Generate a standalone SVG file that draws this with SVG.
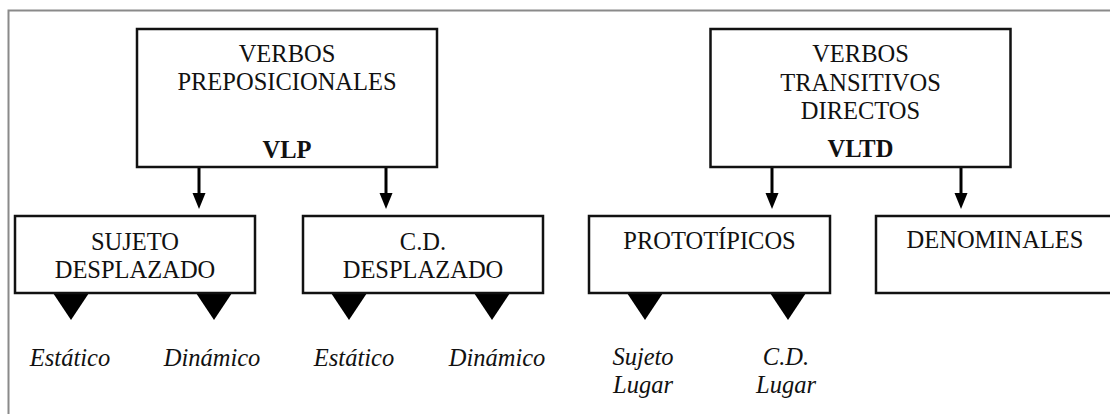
<svg xmlns="http://www.w3.org/2000/svg" width="1110" height="414" viewBox="0 0 1110 414" font-family="'Liberation Serif', 'DejaVu Serif', serif">
<style>
.box{fill:#fff;stroke:#111;stroke-width:2.5}
.t{font-family:'Liberation Serif','DejaVu Serif',serif;font-size:24.5px;fill:#111;text-anchor:middle}
.b{font-weight:bold}
.i{font-style:italic}
.conn{stroke:#000;stroke-width:3;fill:none}
.tri{fill:#000}
.frame{stroke:#8a8a8a;stroke-width:2;fill:none}
</style>
<rect width="1110" height="414" fill="#fff"/>
<path class="frame" d="M8.5,414 V10.5 H1110"/>
<g id="connectors">
<g class="conn">
<line x1="199" y1="168" x2="199" y2="194"/>
<line x1="386" y1="168" x2="386" y2="194"/>
<line x1="772" y1="168" x2="772" y2="194"/>
<line x1="961" y1="168" x2="961" y2="194"/>
</g>
<g class="tri">
<polygon points="192.5,193 205.5,193 199,209"/>
<polygon points="379.5,193 392.5,193 386,209"/>
<polygon points="765.5,193 778.5,193 772,209"/>
<polygon points="954.5,193 967.5,193 961,209"/>
<polygon points="53,293 89,293 71,320"/>
<polygon points="196,293 232,293 214,320"/>
<polygon points="331,293 367,293 349,320"/>
<polygon points="474,293 510,293 492,320"/>
<polygon points="627,293 663,293 645,320"/>
<polygon points="770,293 806,293 788,320"/>
</g>
</g>
<g id="vlp">
<rect class="box" x="137" y="29" width="300" height="138"/>
<text class="t" x="287" y="62">VERBOS</text>
<text class="t" x="287" y="90">PREPOSICIONALES</text>
<text class="t b" x="287" y="158">VLP</text>
</g>
<g id="vltd">
<rect class="box" x="710.5" y="29" width="300" height="138"/>
<text class="t" x="860.5" y="62">VERBOS</text>
<text class="t" x="860.5" y="91">TRANSITIVOS</text>
<text class="t" x="860.5" y="119">DIRECTOS</text>
<text class="t b" x="860.5" y="157">VLTD</text>
</g>
<g id="sujeto">
<rect class="box" x="15" y="216" width="240" height="77"/>
<text class="t" x="135" y="250">SUJETO</text>
<text class="t" x="135" y="278">DESPLAZADO</text>
</g>
<g id="cd">
<rect class="box" x="303" y="216" width="240" height="77"/>
<text class="t" x="423" y="250">C.D.</text>
<text class="t" x="423" y="278">DESPLAZADO</text>
</g>
<g id="prototipicos">
<rect class="box" x="589" y="216" width="241" height="77"/>
<text class="t" x="709.5" y="249">PROTOTÍPICOS</text>
</g>
<g id="denominales">
<rect class="box" x="876" y="216" width="260" height="77"/>
<text class="t" x="995" y="248">DENOMINALES</text>
</g>
<g id="labels">
<text class="t i" x="70" y="366">Estático</text>
<text class="t i" x="212" y="366">Dinámico</text>
<text class="t i" x="354" y="366">Estático</text>
<text class="t i" x="497" y="366">Dinámico</text>
<text class="t i" x="643" y="365">Sujeto</text>
<text class="t i" x="643" y="393">Lugar</text>
<text class="t i" x="786" y="365">C.D.</text>
<text class="t i" x="786" y="393">Lugar</text>
</g>
</svg>
